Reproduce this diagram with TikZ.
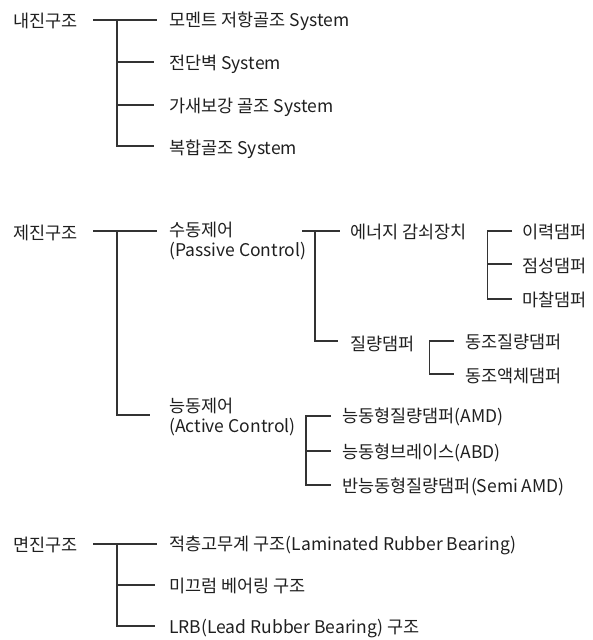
\documentclass[tikz,border=0pt]{standalone}
\usepackage{fontspec}
\setmainfont{Noto Sans CJK KR}
\begin{document}
\begin{tikzpicture}[x=1pt,y=-1pt,
  lbl/.style={anchor=west,inner sep=0pt,font=\fontsize{17.5}{20}\selectfont,text=black!88},
  lbl2/.style={lbl,align=left},
  conn/.style={draw=black!80,line width=1.2pt}]
\useasboundingbox (0,0) rectangle (592,640);
% ---------- 내진구조
\node[lbl] (r1) at (13,21) {내진구조};
\node[lbl] (a1) at (169,21) {모멘트 저항골조 System};
\node[lbl] (a2) at (169,64) {전단벽 System};
\node[lbl] (a3) at (169,107) {가새보강 골조 System};
\node[lbl] (a4) at (169,149) {복합골조 System};
\coordinate (r1s) at (93,20); \coordinate (r1e) at (157,20);
\coordinate (j1t) at (117,20); \coordinate (j1b) at (117,146);
\coordinate (a2e) at (154,62); \coordinate (a3e) at (154,105); \coordinate (a4e) at (154,146);
\draw[conn] (r1s) -- (r1e);
\draw[conn] (j1t) -- (j1b) -- (a4e);
\draw[conn] (j1t |- a2e) -- (a2e);
\draw[conn] (j1t |- a3e) -- (a3e);
% ---------- 제진구조
\node[lbl] (r2) at (13,233) {제진구조};
\node[lbl2] (b1) at (169,241) {수동제어\\(Passive Control)};
\node[lbl2] (b2) at (169,416.5) {능동제어\\(Active Control)};
\coordinate (r2s) at (93,231); \coordinate (r2e) at (157,231);
\coordinate (j2t) at (117,231); \coordinate (b2e) at (150,415);
\draw[conn] (r2s) -- (r2e);
\draw[conn] (j2t) |- (b2e);
% passive
\node[lbl] (c1) at (350,232) {에너지 감쇠장치};
\node[lbl] (c2) at (350,344) {질량댐퍼};
\coordinate (b1s) at (302,231); \coordinate (b1e) at (340,231);
\coordinate (j3t) at (315,231); \coordinate (c2e) at (338,341);
\draw[conn] (b1s) -- (b1e);
\draw[conn] (j3t) |- (c2e);
% energy
\node[lbl] (d1) at (522,232) {이력댐퍼};
\node[lbl] (d2) at (522,266) {점성댐퍼};
\node[lbl] (d3) at (522,300) {마찰댐퍼};
\coordinate (j4t) at (487.5,231); \coordinate (d1e) at (512,231);
\coordinate (d2e) at (512,264); \coordinate (d3e) at (512,299);
\draw[conn] (d1e) -- (j4t) |- (d3e);
\draw[conn] (j4t |- d2e) -- (d2e);
% mass
\node[lbl] (e1) at (465,342) {동조질량댐퍼};
\node[lbl] (e2) at (465,376) {동조액체댐퍼};
\coordinate (j5t) at (429.5,341); \coordinate (e1e) at (454,341); \coordinate (e2e) at (454,374);
\draw[conn] (e1e) -- (j5t) |- (e2e);
% active
\node[lbl] (f1) at (342,417) {능동형질량댐퍼(AMD)};
\node[lbl] (f2) at (342,453) {능동형브레이스(ABD)};
\node[lbl] (f3) at (342,487) {반능동형질량댐퍼(Semi AMD)};
\coordinate (j6t) at (306,416); \coordinate (f1e) at (331,416);
\coordinate (f2e) at (331,451); \coordinate (f3e) at (331,485);
\draw[conn] (f1e) -- (j6t) |- (f3e);
\draw[conn] (j6t |- f2e) -- (f2e);
% ---------- 면진구조
\node[lbl] (r3) at (13,545) {면진구조};
\node[lbl] (g1) at (169,545) {적층고무계 구조(Laminated Rubber Bearing)};
\node[lbl] (g2) at (169,586) {미끄럼 베어링 구조};
\node[lbl] (g3) at (169,629) {LRB(Lead Rubber Bearing) 구조};
\coordinate (r3s) at (93,544); \coordinate (r3e) at (157,544);
\coordinate (j7t) at (117,544); \coordinate (g2e) at (155,585); \coordinate (g3e) at (155,626);
\draw[conn] (r3s) -- (r3e);
\draw[conn] (j7t) |- (g3e);
\draw[conn] (j7t |- g2e) -- (g2e);
\end{tikzpicture}
\end{document}
